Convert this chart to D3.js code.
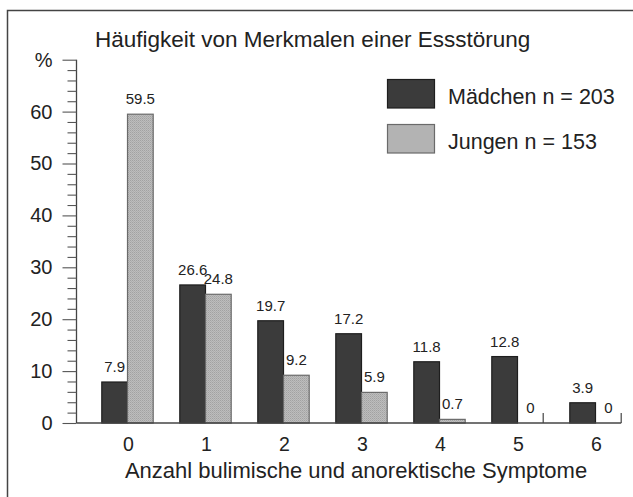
<!DOCTYPE html>
<html>
<head>
<meta charset="utf-8">
<script src="https://cdn.jsdelivr.net/npm/d3@7"></script>
<style>
  body { margin: 0; background: #fff; }
  text { font-family: "Liberation Sans", Arial, sans-serif; fill: #222; }
</style>
</head>
<body>
<div class="chart"></div>
<script>
var svgWidth = 633;
var svgHeight = 497;

// data
var categories = ["0", "1", "2", "3", "4", "5", "6"];
var seriesNames = ["Mädchen n = 203", "Jungen n = 153"];
var maedchen = [7.9, 26.6, 19.7, 17.2, 11.8, 12.8, 3.9];
var jungen = [59.5, 24.8, 9.2, 5.9, 0.7, 0, 0];

var svg = d3.select(".chart")
    .append("svg")
    .attr("width", svgWidth)
    .attr("height", svgHeight);

// stipple pattern for the light bars
var defs = svg.append("defs");
var pat = defs.append("pattern")
    .attr("id", "stipple")
    .attr("width", 2)
    .attr("height", 2)
    .attr("patternUnits", "userSpaceOnUse");
pat.append("rect").attr("width", 2).attr("height", 2).attr("fill", "#c4c4c4");
pat.append("rect").attr("width", 1).attr("height", 1).attr("fill", "#9a9a9a");
pat.append("rect").attr("x", 1).attr("y", 1).attr("width", 1).attr("height", 1).attr("fill", "#a8a8a8");

// frame (right and bottom fall off the picture)
svg.append("rect")
    .attr("x", 7.5)
    .attr("y", 10.5)
    .attr("width", 700)
    .attr("height", 600)
    .attr("fill", "none")
    .attr("stroke", "#444")
    .attr("stroke-width", 1.5);

// scales
var x0 = d3.scaleBand()
    .domain(categories)
    .range([88.5, 634.5])
    .paddingInner(0.341)
    .paddingOuter(0.1705);

var x1 = d3.scaleBand()
    .domain([0, 1])
    .range([0, x0.bandwidth()]);

var y = d3.scaleLinear()
    .domain([0, 70])
    .range([423, 59.7]);

// y axis
var leftAxis = d3.axisLeft(y)
    .tickValues(d3.range(0, 71, 2))
    .tickSize(9)
    .tickPadding(10)
    .tickFormat(d => d % 10 === 0 ? (d === 70 ? "%" : d) : "");

var yAxis = svg.append("g")
    .attr("transform", "translate(76.5, 0)")
    .call(leftAxis);
yAxis.select(".domain").attr("stroke", "#444").attr("stroke-width", 1.3).attr("d", "M0," + y(0) + "V" + y(70));
yAxis.selectAll(".tick line").attr("stroke", "#555").attr("stroke-width", 1.1);
yAxis.selectAll(".tick").filter(d => d % 10 === 0).select("line").attr("x2", -14);
yAxis.selectAll(".tick text")
    .attr("x", -24)
    .style("font-size", "20px")
    .attr("fill", "#222");

// bars
var rows = categories.map((c, i) => ({ cat: c, vals: [maedchen[i], jungen[i]] }));

var groups = svg.selectAll(".group")
    .data(rows)
    .enter()
    .append("g")
    .attr("class", "group")
    .attr("transform", d => `translate(${x0(d.cat)}, 0)`);

var bars = groups.selectAll("g.bar")
    .data(d => d.vals.map((v, k) => ({ k: k, v: v })))
    .enter()
    .append("g")
    .attr("class", "bar");

bars.filter(d => d.v > 0)
    .append("rect")
    .attr("x", d => x1(d.k))
    .attr("y", d => y(d.v))
    .attr("width", x1.bandwidth())
    .attr("height", d => y(0) - y(d.v))
    .attr("fill", d => d.k === 0 ? "#3b3b3b" : "url(#stipple)")
    .attr("stroke", d => d.k === 0 ? "#1e1e1e" : "#6a6a6a")
    .attr("stroke-width", 1.2);

// zero bars just leave a small mark on the right edge
bars.filter(d => d.v === 0)
    .append("line")
    .attr("x1", d => x1(d.k) + x1.bandwidth())
    .attr("x2", d => x1(d.k) + x1.bandwidth())
    .attr("y1", y(0))
    .attr("y2", y(0) - 10)
    .attr("stroke", "#444")
    .attr("stroke-width", 1.2);

bars.append("text")
    .attr("x", d => x1(d.k) + x1.bandwidth() / 2)
    .attr("y", d => y(d.v) - 10)
    .attr("text-anchor", "middle")
    .style("font-size", "15px")
    .text(d => d.v);

// x axis line and labels
svg.append("line")
    .attr("x1", 76.5)
    .attr("x2", x0(categories[6]) + x0.bandwidth())
    .attr("y1", 423)
    .attr("y2", 423)
    .attr("stroke", "#444")
    .attr("stroke-width", 1.3);

svg.selectAll(".xlab")
    .data(categories)
    .enter()
    .append("text")
    .attr("class", "xlab")
    .attr("x", d => x0(d) + x0.bandwidth() / 2 + 1)
    .attr("y", 451)
    .attr("text-anchor", "middle")
    .style("font-size", "19.5px")
    .text(d => d);

svg.append("text")
    .attr("x", 356)
    .attr("y", 477.7)
    .attr("text-anchor", "middle")
    .style("font-size", "22px")
    .text("Anzahl bulimische und anorektische Symptome");

// title
svg.append("text")
    .attr("x", 95)
    .attr("y", 47)
    .style("font-size", "22.5px")
    .text("Häufigkeit von Merkmalen einer Essstörung");

// legend
var legend = svg.selectAll(".legend")
    .data(seriesNames)
    .enter()
    .append("g")
    .attr("class", "legend")
    .attr("transform", (d, i) => `translate(387.5, ${79.5 + i * 45})`);

legend.append("rect")
    .attr("width", 47)
    .attr("height", 28.5)
    .attr("fill", (d, i) => i === 0 ? "#3b3b3b" : "url(#stipple)")
    .attr("stroke", (d, i) => i === 0 ? "#1e1e1e" : "#6a6a6a")
    .attr("stroke-width", 1.2);

legend.append("text")
    .attr("x", 60.5)
    .attr("y", 24.5)
    .style("font-size", "21.5px")
    .text(d => d);
</script>
</body>
</html>
